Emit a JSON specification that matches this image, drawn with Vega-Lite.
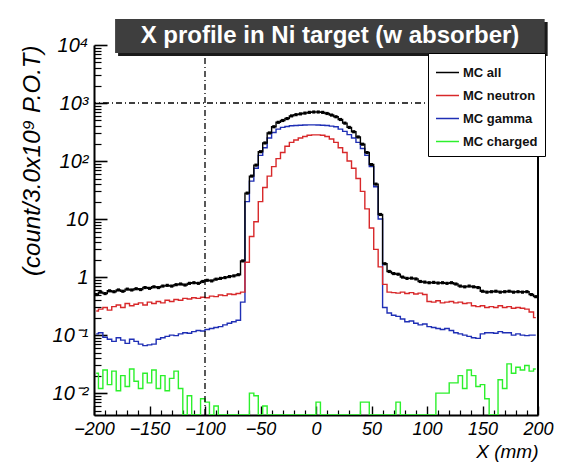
{
  "$schema": "https://vega.github.io/schema/vega-lite/v6.json",
  "width": 444,
  "height": 370,
  "autosize": "none",
  "padding": {"left": 94, "top": 45, "right": 27, "bottom": 61},
  "background": "white",
  "config": {"view": {"stroke": null}, "font": "Liberation Sans"},
  "data": {
    "values": [
      {"x": -198, "all": 0.50, "neutron": 0.26, "gamma": 0.105, "charged": 0.022},
      {"x": -194, "all": 0.55, "neutron": 0.28, "gamma": 0.11, "charged": 0.012},
      {"x": -190, "all": 0.52, "neutron": 0.30, "gamma": 0.092, "charged": 0.025},
      {"x": -186, "all": 0.58, "neutron": 0.27, "gamma": 0.085, "charged": 0.014},
      {"x": -182, "all": 0.56, "neutron": 0.31, "gamma": 0.078, "charged": 0.024},
      {"x": -178, "all": 0.60, "neutron": 0.33, "gamma": 0.09, "charged": 0.011},
      {"x": -174, "all": 0.57, "neutron": 0.30, "gamma": 0.082, "charged": 0.02},
      {"x": -170, "all": 0.62, "neutron": 0.35, "gamma": 0.072, "charged": 0.013},
      {"x": -166, "all": 0.60, "neutron": 0.32, "gamma": 0.085, "charged": 0.026},
      {"x": -162, "all": 0.63, "neutron": 0.34, "gamma": 0.078, "charged": 0.016},
      {"x": -158, "all": 0.61, "neutron": 0.36, "gamma": 0.07, "charged": 0.012},
      {"x": -154, "all": 0.66, "neutron": 0.33, "gamma": 0.066, "charged": 0.022},
      {"x": -150, "all": 0.64, "neutron": 0.37, "gamma": 0.068, "charged": 0.015},
      {"x": -146, "all": 0.68, "neutron": 0.35, "gamma": 0.07, "charged": 0.025},
      {"x": -142, "all": 0.66, "neutron": 0.38, "gamma": 0.085, "charged": 0.012},
      {"x": -138, "all": 0.70, "neutron": 0.36, "gamma": 0.09, "charged": 0.02},
      {"x": -134, "all": 0.72, "neutron": 0.40, "gamma": 0.095, "charged": 0.011},
      {"x": -130, "all": 0.70, "neutron": 0.38, "gamma": 0.10, "charged": 0.018},
      {"x": -126, "all": 0.74, "neutron": 0.41, "gamma": 0.098, "charged": 0.024},
      {"x": -122, "all": 0.76, "neutron": 0.40, "gamma": 0.105, "charged": 0.012},
      {"x": -118, "all": 0.73, "neutron": 0.43, "gamma": 0.11, "charged": 0},
      {"x": -114, "all": 0.78, "neutron": 0.42, "gamma": 0.108, "charged": 0.009},
      {"x": -110, "all": 0.80, "neutron": 0.44, "gamma": 0.115, "charged": 0},
      {"x": -106, "all": 0.78, "neutron": 0.43, "gamma": 0.12, "charged": 0},
      {"x": -102, "all": 0.84, "neutron": 0.45, "gamma": 0.118, "charged": 0.008},
      {"x": -98, "all": 0.88, "neutron": 0.44, "gamma": 0.125, "charged": 0.007},
      {"x": -94, "all": 0.86, "neutron": 0.47, "gamma": 0.13, "charged": 0},
      {"x": -90, "all": 0.92, "neutron": 0.46, "gamma": 0.135, "charged": 0.006},
      {"x": -86, "all": 0.95, "neutron": 0.49, "gamma": 0.14, "charged": 0},
      {"x": -82, "all": 0.98, "neutron": 0.48, "gamma": 0.15, "charged": 0},
      {"x": -78, "all": 1.02, "neutron": 0.51, "gamma": 0.16, "charged": 0},
      {"x": -74, "all": 1.05, "neutron": 0.50, "gamma": 0.17, "charged": 0},
      {"x": -70, "all": 1.10, "neutron": 0.52, "gamma": 0.18, "charged": 0},
      {"x": -66, "all": 1.9, "neutron": 0.55, "gamma": 0.37, "charged": 0},
      {"x": -62, "all": 28, "neutron": 1.8, "gamma": 20, "charged": 0},
      {"x": -58, "all": 55, "neutron": 5, "gamma": 45, "charged": 0.01},
      {"x": -54, "all": 85, "neutron": 9, "gamma": 75, "charged": 0.009},
      {"x": -50, "all": 145, "neutron": 20, "gamma": 125, "charged": 0},
      {"x": -46, "all": 205, "neutron": 35, "gamma": 170, "charged": 0.006},
      {"x": -42, "all": 305, "neutron": 55, "gamma": 250, "charged": 0},
      {"x": -38, "all": 390, "neutron": 80, "gamma": 310, "charged": 0},
      {"x": -34, "all": 465, "neutron": 110, "gamma": 355, "charged": 0},
      {"x": -30, "all": 500, "neutron": 140, "gamma": 380, "charged": 0},
      {"x": -26, "all": 540, "neutron": 180, "gamma": 395, "charged": 0},
      {"x": -22, "all": 600, "neutron": 210, "gamma": 405, "charged": 0},
      {"x": -18, "all": 630, "neutron": 230, "gamma": 410, "charged": 0},
      {"x": -14, "all": 650, "neutron": 250, "gamma": 415, "charged": 0},
      {"x": -10, "all": 670, "neutron": 265, "gamma": 418, "charged": 0},
      {"x": -6, "all": 690, "neutron": 278, "gamma": 420, "charged": 0},
      {"x": -2, "all": 700, "neutron": 282, "gamma": 420, "charged": 0},
      {"x": 2, "all": 700, "neutron": 282, "gamma": 418, "charged": 0.007},
      {"x": 6, "all": 690, "neutron": 278, "gamma": 415, "charged": 0},
      {"x": 10, "all": 660, "neutron": 265, "gamma": 410, "charged": 0},
      {"x": 14, "all": 620, "neutron": 240, "gamma": 400, "charged": 0},
      {"x": 18, "all": 580, "neutron": 210, "gamma": 390, "charged": 0},
      {"x": 22, "all": 520, "neutron": 170, "gamma": 355, "charged": 0},
      {"x": 26, "all": 450, "neutron": 140, "gamma": 325, "charged": 0},
      {"x": 30, "all": 380, "neutron": 100, "gamma": 285, "charged": 0},
      {"x": 34, "all": 320, "neutron": 75, "gamma": 250, "charged": 0},
      {"x": 38, "all": 260, "neutron": 50, "gamma": 210, "charged": 0},
      {"x": 42, "all": 195, "neutron": 30, "gamma": 165, "charged": 0.007},
      {"x": 46, "all": 140, "neutron": 15, "gamma": 125, "charged": 0.007},
      {"x": 50, "all": 87, "neutron": 7, "gamma": 80, "charged": 0},
      {"x": 54, "all": 40, "neutron": 3, "gamma": 36, "charged": 0},
      {"x": 58, "all": 12, "neutron": 1.5, "gamma": 10, "charged": 0},
      {"x": 62, "all": 1.7, "neutron": 0.75, "gamma": 0.3, "charged": 0},
      {"x": 66, "all": 1.25, "neutron": 0.55, "gamma": 0.24, "charged": 0},
      {"x": 70, "all": 1.15, "neutron": 0.54, "gamma": 0.22, "charged": 0},
      {"x": 74, "all": 1.12, "neutron": 0.53, "gamma": 0.21, "charged": 0.007},
      {"x": 78, "all": 1.0, "neutron": 0.55, "gamma": 0.19, "charged": 0},
      {"x": 82, "all": 0.95, "neutron": 0.52, "gamma": 0.17, "charged": 0},
      {"x": 86, "all": 0.96, "neutron": 0.54, "gamma": 0.175, "charged": 0},
      {"x": 90, "all": 0.93, "neutron": 0.51, "gamma": 0.16, "charged": 0},
      {"x": 94, "all": 0.84, "neutron": 0.53, "gamma": 0.15, "charged": 0},
      {"x": 98, "all": 0.82, "neutron": 0.50, "gamma": 0.155, "charged": 0},
      {"x": 102, "all": 0.80, "neutron": 0.38, "gamma": 0.14, "charged": 0},
      {"x": 106, "all": 0.81, "neutron": 0.37, "gamma": 0.135, "charged": 0},
      {"x": 110, "all": 0.79, "neutron": 0.39, "gamma": 0.13, "charged": 0.01},
      {"x": 114, "all": 0.80, "neutron": 0.36, "gamma": 0.125, "charged": 0.01},
      {"x": 118, "all": 0.78, "neutron": 0.37, "gamma": 0.13, "charged": 0.01},
      {"x": 122, "all": 0.80, "neutron": 0.38, "gamma": 0.12, "charged": 0.015},
      {"x": 126, "all": 0.76, "neutron": 0.36, "gamma": 0.11, "charged": 0.015},
      {"x": 130, "all": 0.70, "neutron": 0.37, "gamma": 0.105, "charged": 0.02},
      {"x": 134, "all": 0.68, "neutron": 0.35, "gamma": 0.10, "charged": 0.012},
      {"x": 138, "all": 0.70, "neutron": 0.36, "gamma": 0.095, "charged": 0.025},
      {"x": 142, "all": 0.68, "neutron": 0.32, "gamma": 0.09, "charged": 0.02},
      {"x": 146, "all": 0.66, "neutron": 0.31, "gamma": 0.088, "charged": 0.013},
      {"x": 150, "all": 0.57, "neutron": 0.32, "gamma": 0.105, "charged": 0.014},
      {"x": 154, "all": 0.55, "neutron": 0.30, "gamma": 0.11, "charged": 0.008},
      {"x": 158, "all": 0.56, "neutron": 0.31, "gamma": 0.11, "charged": 0},
      {"x": 162, "all": 0.57, "neutron": 0.30, "gamma": 0.108, "charged": 0},
      {"x": 166, "all": 0.55, "neutron": 0.32, "gamma": 0.115, "charged": 0.017},
      {"x": 170, "all": 0.56, "neutron": 0.30, "gamma": 0.11, "charged": 0.012},
      {"x": 174, "all": 0.57, "neutron": 0.31, "gamma": 0.11, "charged": 0.032},
      {"x": 178, "all": 0.55, "neutron": 0.29, "gamma": 0.10, "charged": 0.022},
      {"x": 182, "all": 0.56, "neutron": 0.30, "gamma": 0.105, "charged": 0.028},
      {"x": 186, "all": 0.55, "neutron": 0.29, "gamma": 0.10, "charged": 0.025},
      {"x": 190, "all": 0.56, "neutron": 0.28, "gamma": 0.098, "charged": 0.03},
      {"x": 194, "all": 0.50, "neutron": 0.25, "gamma": 0.10, "charged": 0.024},
      {"x": 198, "all": 0.46, "neutron": 0.20, "gamma": 0.10, "charged": 0.026}
    ]
  },
  "resolve": {"scale": {"y": "independent"}, "axis": {"x": "independent", "y": "independent"}},
  "layer": [
    {
      "transform": [{"fold": ["charged", "gamma", "neutron", "all"], "as": ["series", "count"]}],
      "mark": {"type": "line", "interpolate": "step", "strokeWidth": 1.4, "invalid": "show", "clip": true},
      "encoding": {
        "x": {
          "field": "x", "type": "quantitative",
          "scale": {"domain": [-200, 200], "nice": false, "zero": false},
          "axis": {
            "values": [-200, -150, -100, -50, 0, 50, 100, 150, 200], "format": "d",
            "grid": false, "domainColor": "black", "domainWidth": 2,
            "tickColor": "black", "tickSize": -9, "tickWidth": 1.4,
            "labelPadding": 14, "labelFontSize": 18, "labelFontStyle": "italic", "labelColor": "black",
            "labelFlush": false, "labelOverlap": false,
            "title": "X (mm)", "titleAnchor": "end", "titleFontSize": 19, "titleFontStyle": "italic",
            "titleFontWeight": "normal", "titleColor": "black", "titlePadding": 4
          }
        },
        "y": {
          "field": "count", "type": "quantitative",
          "scale": {"type": "log", "domain": [0.0042, 10000], "nice": false, "clamp": true},
          "axis": {
            "values": [0.01, 0.1, 1, 10, 100, 1000, 10000],
            "labelExpr": "datum.value == 1 ? '1' : datum.value == 10 ? '10' : datum.value == 100 ? '10²' : datum.value == 1000 ? '10³' : datum.value == 10000 ? '10⁴' : datum.value == 0.1 ? '10⁻¹' : '10⁻²'",
            "grid": false, "domainColor": "black", "domainWidth": 2,
            "tickColor": "black", "tickSize": -13, "tickWidth": 1.6,
            "labelPadding": 19, "labelFontSize": 20, "labelFontStyle": "italic", "labelColor": "black",
            "labelOverlap": false,
            "title": "(count/3.0x10⁹ P.O.T)", "titleAnchor": "end", "titleFontSize": 24,
            "titleFontStyle": "italic", "titleFontWeight": "normal", "titleColor": "black", "titlePadding": 8
          }
        },
        "color": {
          "field": "series", "type": "nominal",
          "scale": {"domain": ["all", "neutron", "gamma", "charged"], "range": ["#000000", "#d8282a", "#1f2fb5", "#2cf02c"]},
          "legend": {
            "orient": "none", "legendX": 334, "legendY": 8, "title": null,
            "fillColor": "white", "strokeColor": "black", "padding": 7,
            "symbolType": "stroke", "symbolSize": 529, "symbolStrokeWidth": 1.5,
            "labelFont": "Liberation Sans", "labelFontSize": 13, "labelFontWeight": "bold",
            "labelColor": "#111111", "rowPadding": 3, "labelOffset": 3,
            "labelExpr": "'MC ' + datum.label"
          }
        }
      }
    },
    {
      "mark": {"type": "square", "size": 10, "color": "black", "opacity": 1, "clip": true},
      "encoding": {
        "x": {
          "field": "x", "type": "quantitative",
          "axis": {
            "orient": "bottom",
            "values": [-190, -180, -170, -160, -140, -130, -120, -110, -90, -80, -70, -60, -40, -30, -20, -10, 10, 20, 30, 40, 60, 70, 80, 90, 110, 120, 130, 140, 160, 170, 180, 190],
            "labels": false, "domain": false, "grid": false,
            "tickColor": "black", "tickSize": -5, "tickWidth": 1.2, "title": null
          }
        },
        "y": {
          "field": "all", "type": "quantitative",
          "scale": {"type": "log", "domain": [0.0042, 10000], "nice": false, "clamp": true},
          "axis": {
            "orient": "left",
            "values": [0.005, 0.006, 0.007, 0.008, 0.009, 0.02, 0.03, 0.04, 0.05, 0.06, 0.07, 0.08, 0.09, 0.2, 0.3, 0.4, 0.5, 0.6, 0.7, 0.8, 0.9, 2, 3, 4, 5, 6, 7, 8, 9, 20, 30, 40, 50, 60, 70, 80, 90, 200, 300, 400, 500, 600, 700, 800, 900, 2000, 3000, 4000, 5000, 6000, 7000, 8000, 9000],
            "labels": false, "domain": false, "grid": false,
            "tickColor": "black", "tickSize": -7, "tickWidth": 1.2, "title": null
          }
        }
      }
    },
    {
      "data": {"values": [{}]},
      "mark": {"type": "rule", "color": "black", "strokeWidth": 1.3, "strokeDash": [6, 3, 1, 3]},
      "encoding": {"x": {"datum": -100, "type": "quantitative", "axis": null}}
    },
    {
      "data": {"values": [{}]},
      "mark": {"type": "rule", "color": "black", "strokeWidth": 1.3, "strokeDash": [6, 3, 1, 3]},
      "encoding": {
        "y": {"datum": 1000, "type": "quantitative", "scale": {"type": "log", "domain": [0.0042, 10000], "nice": false}, "axis": null}
      }
    },
    {
      "data": {"values": [{}]},
      "mark": {"type": "rule", "color": "black", "strokeWidth": 2},
      "encoding": {"x": {"datum": 200, "type": "quantitative", "axis": null}}
    },
    {
      "data": {"values": [{}]},
      "mark": {"type": "rect", "color": "#1a1a1a", "clip": false},
      "encoding": {
        "x": {"datum": -178.3, "type": "quantitative", "axis": null},
        "x2": {"datum": 208.7},
        "y": {"datum": 24940, "type": "quantitative", "scale": {"type": "log", "domain": [0.0042, 10000], "nice": false}, "axis": null},
        "y2": {"datum": 6460}
      }
    },
    {
      "data": {"values": [{}]},
      "mark": {"type": "rect", "color": "#3e3e3e", "clip": false},
      "encoding": {
        "x": {"datum": -181, "type": "quantitative", "axis": null},
        "x2": {"datum": 206},
        "y": {"datum": 28050, "type": "quantitative", "scale": {"type": "log", "domain": [0.0042, 10000], "nice": false}, "axis": null},
        "y2": {"datum": 7280}
      }
    },
    {
      "data": {"values": [{}]},
      "mark": {"type": "text", "color": "white", "font": "Liberation Sans", "fontWeight": "bold", "fontSize": 24, "align": "center", "baseline": "middle", "clip": false},
      "encoding": {
        "x": {"datum": 12.6, "type": "quantitative", "axis": null},
        "y": {"datum": 14290, "type": "quantitative", "scale": {"type": "log", "domain": [0.0042, 10000], "nice": false}, "axis": null},
        "text": {"value": "X profile in Ni target (w absorber)"}
      }
    }
  ]
}
